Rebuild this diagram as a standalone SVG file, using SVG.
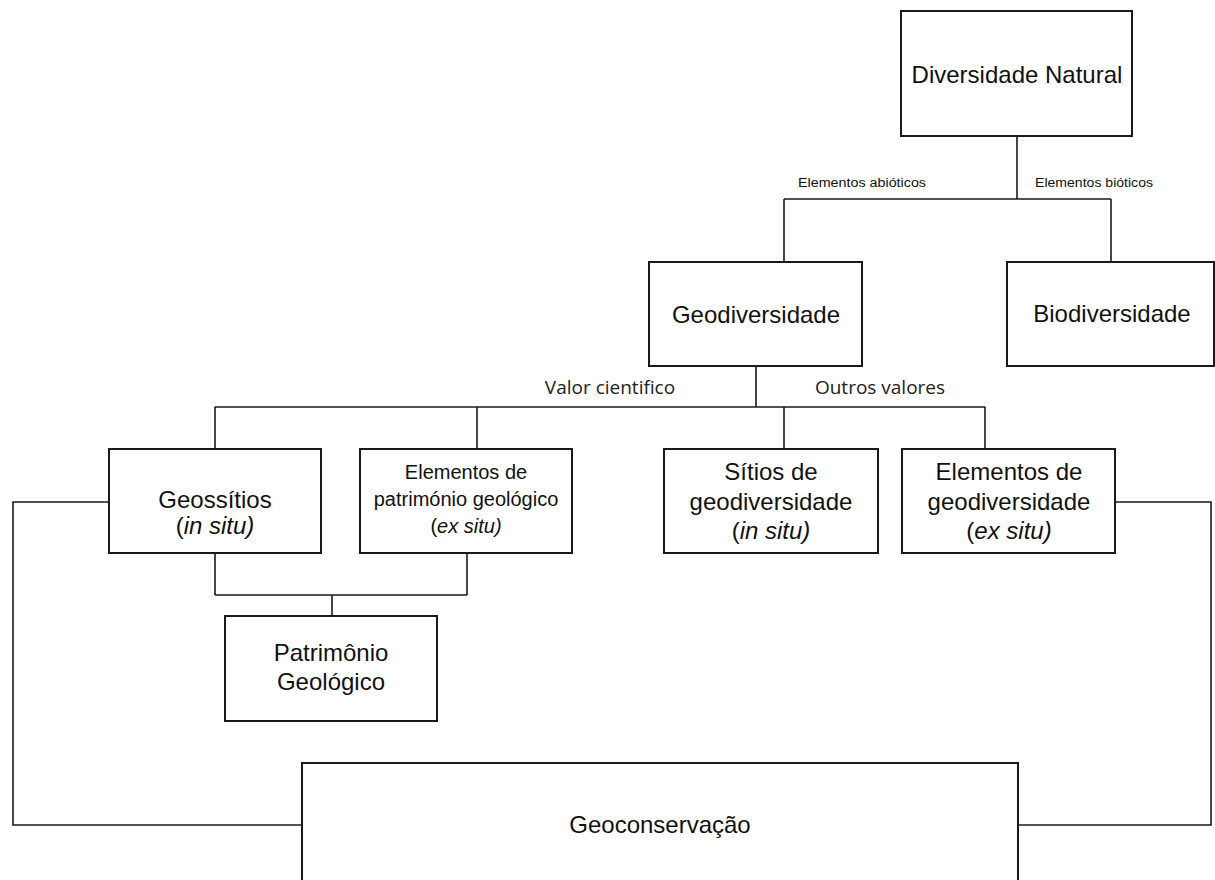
<svg xmlns="http://www.w3.org/2000/svg" width="1215" height="880" viewBox="0 0 1215 880">
<style>
.box{fill:#fff;stroke:#1a1a1a;stroke-width:2}
.t{font-family:"Liberation Sans",Arial,sans-serif;font-size:24px;fill:#111;text-anchor:middle}
.t20{font-family:"Liberation Sans",Arial,sans-serif;font-size:20px;fill:#111;text-anchor:middle}
.it{font-style:italic}
.sm{font-family:"Liberation Sans",Arial,sans-serif;font-size:12.5px;fill:#111;text-anchor:middle}
.lbl{font-family:"Open Sans","Liberation Sans",sans-serif;font-size:19px;fill:#222;text-anchor:middle}
.ln{fill:none;stroke:#1a1a1a;stroke-width:1.6}
</style>
<rect width="1215" height="880" fill="#fff"/>
<g id="connectors">
<path class="ln" d="M1017 136V199M784 199H1111M784 199V262M1111 199V262"/>
<path class="ln" d="M756 366V407M215 407H985M215 407V449M477 407V449M784 407V449M985 407V449"/>
<path class="ln" d="M215 553V595M467 553V595M215 595H467M332 595V616"/>
<path class="ln" d="M109 502H13V825H302"/>
<path class="ln" d="M1115 502H1211V825H1018"/>
<text class="sm" x="862" y="187" textLength="128" lengthAdjust="spacingAndGlyphs">Elementos abióticos</text>
<text class="sm" x="1094" y="187" textLength="118" lengthAdjust="spacingAndGlyphs">Elementos bióticos</text>
<text class="lbl" x="610" y="394">Valor cientifico</text>
<text class="lbl" x="880" y="394">Outros valores</text>
</g>
<g id="diversidade-natural">
<rect class="box" x="901" y="11" width="231" height="125"/>
<text class="t" x="1017" y="83">Diversidade Natural</text>
</g>
<g id="geodiversidade">
<rect class="box" x="649" y="262" width="213" height="104"/>
<text class="t" x="756" y="323">Geodiversidade</text>
</g>
<g id="biodiversidade">
<rect class="box" x="1007" y="262" width="207" height="104"/>
<text class="t" x="1112" y="322">Biodiversidade</text>
</g>
<g id="geossitios">
<rect class="box" x="109" y="449" width="212" height="104"/>
<text class="t" x="215" y="508">Geossítios</text>
<text class="t" x="215" y="534">(<tspan class="it">in situ)</tspan></text>
</g>
<g id="elementos-patrimonio">
<rect class="box" x="360" y="449" width="212" height="104"/>
<text class="t20" x="466" y="479">Elementos de</text>
<text class="t20" x="466" y="506">património geológico</text>
<text class="t20" x="466" y="533">(<tspan class="it">ex situ)</tspan></text>
</g>
<g id="sitios-geodiversidade">
<rect class="box" x="664" y="449" width="214" height="104"/>
<text class="t" x="771" y="480">Sítios de</text>
<text class="t" x="771" y="510">geodiversidade</text>
<text class="t" x="771" y="539">(<tspan class="it">in situ)</tspan></text>
</g>
<g id="elementos-geodiversidade">
<rect class="box" x="902" y="449" width="213" height="104"/>
<text class="t" x="1009" y="480">Elementos de</text>
<text class="t" x="1009" y="510">geodiversidade</text>
<text class="t" x="1009" y="539">(<tspan class="it">ex situ)</tspan></text>
</g>
<g id="patrimonio-geologico">
<rect class="box" x="225" y="616" width="212" height="105"/>
<text class="t" x="331" y="661">Patrimônio</text>
<text class="t" x="331" y="690">Geológico</text>
</g>
<g id="geoconservacao">
<rect class="box" x="302" y="763" width="716" height="130"/>
<text class="t" x="660" y="833">Geoconservação</text>
</g>
</svg>
